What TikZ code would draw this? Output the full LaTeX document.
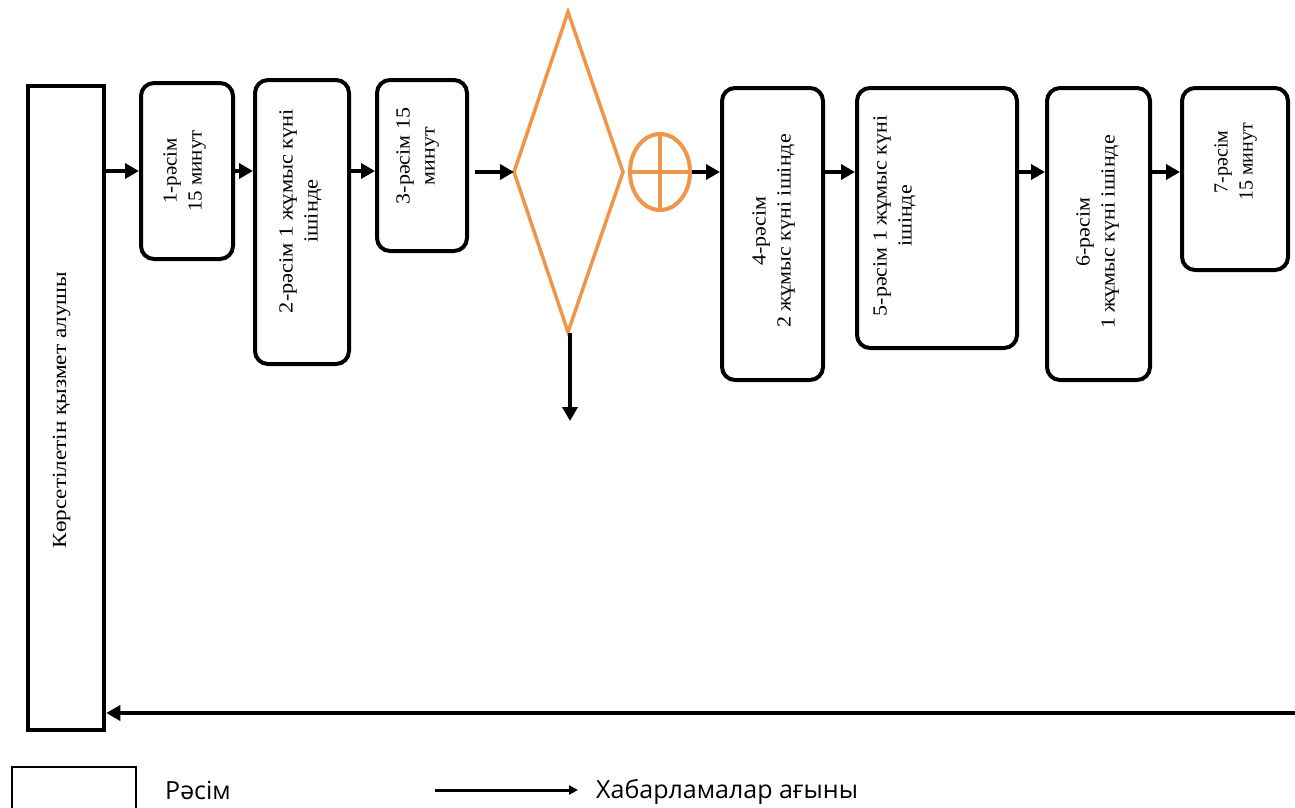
\documentclass[tikz,border=0pt]{standalone}
\usepackage{fontspec}
\usepackage{graphicx}
\setmainfont{Liberation Serif}
\newfontfamily\legendfont{Open Sans}
\usetikzlibrary{arrows.meta,shapes.geometric}
\definecolor{orng}{RGB}{240,150,75}
\newcommand{\strtxt}[2]{\scalebox{#1}[1]{\begin{tabular}{@{}c@{}}#2\end{tabular}}}
\tikzset{
  stepbox/.style={draw=black, line width=4pt, rounded corners=13pt, inner sep=0pt, fill=white},
  squarebox/.style={draw=black, line width=4.5pt, inner sep=0pt, fill=white},
  rtext/.style={rotate=90, inner sep=0pt, font=\fontsize{20}{25}\selectfont},
  flow/.style={line width=4.5pt, -{Triangle[length=14pt,width=15pt]}},
  thinflow/.style={line width=3pt, -{Triangle[length=9pt,width=9pt]}},
  legtext/.style={anchor=west, inner sep=0pt, font=\legendfont\fontsize{25}{30}\selectfont}
}
\begin{document}
\begin{tikzpicture}[x=1pt,y=-1pt]
\useasboundingbox (0,0) rectangle (1295,808);
\clip (0,0) rectangle (1295,808);
\fill[white] (0,0) rectangle (1295,808);

% left receiver box
\node[squarebox, minimum width=76pt, minimum height=644pt] (recv) at (66,408) {};
\node[rtext] (recvt) at (61,410) {\strtxt{1.16}{Көрсетілетін қызмет алушы}};

% step boxes
\node[stepbox, minimum width=92pt, minimum height=176pt] (b1) at (187,171) {};
\node[rtext] (t1) at (184,171) {\strtxt{1.05}{1-рәсім\\15 минут}};

\node[stepbox, minimum width=94pt, minimum height=284pt] (b2) at (302,222) {};
\node[rtext] (t2) at (300,211) {\strtxt{1.12}{2-рәсім 1 жұмыс күні\\ішінде}};

\node[stepbox, minimum width=90pt, minimum height=171pt] (b3) at (422,165.5) {};
\node[rtext] (t3) at (417,156) {\strtxt{1.1}{3-рәсім 15\\минут}};

\node[stepbox, minimum width=101pt, minimum height=292pt] (b4) at (772.5,234) {};
\node[rtext] (t4) at (773,231) {\strtxt{1.1}{4-рәсім\\2 жұмыс күні ішінде}};

\node[stepbox, minimum width=160pt, minimum height=260pt] (b5) at (937,218) {};
\node[rtext] (t5) at (894,216) {\strtxt{1.1}{5-рәсім 1 жұмыс күні\\ішінде}};

\node[stepbox, minimum width=103pt, minimum height=292pt] (b6) at (1098.5,234) {};
\node[rtext] (t6) at (1097,232) {\strtxt{1.1}{6-рәсім\\1 жұмыс күні ішінде}};

\node[stepbox, minimum width=106pt, minimum height=182pt] (b7) at (1235,179) {};
\node[rtext] (t7) at (1235,162) {\strtxt{1.0}{7-рәсім\\15 минут}};

% decision diamond
\coordinate (dl) at (514,172);
\coordinate (dr) at (623,172);
\coordinate (dt) at (568,12);
\coordinate (db) at (568,332);
\draw[orng, line width=3.5pt, line join=miter] (dl) -- (dt) -- (dr) -- (db) -- cycle;

% or-gate ellipse
\node[ellipse, draw=orng, line width=4pt, minimum width=60pt, minimum height=76pt, inner sep=0pt] (og) at (660,172) {};
\draw[orng, line width=4pt] (og.west) -- (og.east);
\draw[orng, line width=4pt] (og.north) -- (og.south);

% connectors
\coordinate (b1in) at (b1.west |- 0,171);
\draw[flow] (recv.east |- b1in) -- (b1in);
\draw[flow] (b1.east |- 0,171) -- (b2.west |- 0,171);
\draw[flow] (b2.east |- 0,171) -- (b3.west |- 0,171);
\draw[flow] ([xshift=6pt]b3.east |- dl) -- (dl);
\coordinate (down) at (570,421);
\draw[flow] (570,333) -- (down);
\draw[flow] (og.east) -- (b4.west |- og.east);
\draw[flow] (b4.east |- 0,172) -- (b5.west |- 0,172);
\draw[flow] (b5.east |- 0,172) -- (b6.west |- 0,172);
\draw[flow] (b6.east |- 0,172) -- (b7.west |- 0,172);

\coordinate (ret) at (1297,713);
\draw[flow] (ret) -- (recv.east |- ret);

% legend
\node[draw=black, line width=2.5pt, minimum width=124pt, minimum height=48pt, inner sep=0pt] (legbox) at (74,791) {};
\node[legtext] (legstep) at (165,790) {Рәсім};
\coordinate (la) at (435,790);
\coordinate (lb) at (578,790);
\draw[thinflow] (la) -- (lb);
\node[legtext] (legflow) at (596,792) {Хабарламалар ағыны};
\end{tikzpicture}
\end{document}
